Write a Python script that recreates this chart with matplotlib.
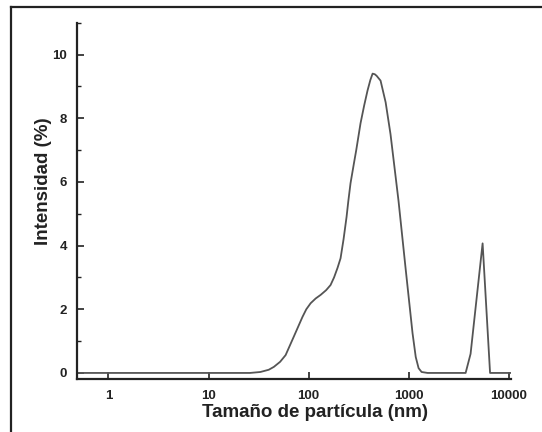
import matplotlib
matplotlib.use("Agg")
import matplotlib.pyplot as plt
from matplotlib.lines import Line2D
from matplotlib.ticker import MultipleLocator, FixedLocator, NullLocator

plt.rcParams['font.family'] = ['Liberation Sans', 'DejaVu Sans']
plt.rcParams['font.weight'] = 'bold'

# tamaño de partícula (nm) e intensidad (%)
size_nm = [0.48, 26, 33, 40, 45, 52, 59, 71, 87, 95, 105, 118, 132, 150, 166, 180, 195, 209,
           224, 240, 250, 263, 285, 300, 331, 360, 389, 415, 437, 460, 480, 525, 590, 660,
           794, 933, 1096, 1180, 1260, 1350, 1550,
           3720, 4170, 5500, 6530, 10500]
intensity = [0, 0, 0.03, 0.1, 0.19, 0.35, 0.56, 1.13, 1.76, 2.0, 2.19, 2.34, 2.45, 2.6, 2.76,
             3.0, 3.3, 3.6, 4.2, 4.9, 5.4, 5.96, 6.6, 7.0, 7.84, 8.4, 8.87, 9.2, 9.4, 9.38,
             9.33, 9.18, 8.5, 7.5, 5.4, 3.3, 1.25, 0.5, 0.15, 0.03, 0,
             0, 0.6, 4.07, 0, 0]

x_ticks = [1, 10, 100, 1000, 10000]
x_ticklabels = ['1', '10', '100', '1000', '10000']

fig = plt.figure(figsize=(5.42, 4.32), dpi=100)
ax = fig.add_axes([0.142, 0.1227, 0.801, 0.8248])

ax.plot(size_nm, intensity, color='#555555', lw=1.3)

ax.set_xscale('log')
ax.set_xlim(0.484, 10600)
ax.set_ylim(-0.19, 11)

ax.xaxis.set_major_locator(FixedLocator(x_ticks))
ax.set_xticklabels(x_ticklabels)
ax.xaxis.set_minor_locator(NullLocator())
ax.yaxis.set_major_locator(MultipleLocator(2))
ax.yaxis.set_minor_locator(MultipleLocator(1))
ax.set_yticks(range(0, 11, 2))

for s in ['top', 'right']:
    ax.spines[s].set_visible(False)
for s in ['left', 'bottom']:
    ax.spines[s].set_linewidth(1.6)
    ax.spines[s].set_color('#222222')

ax.tick_params(axis='both', which='major', direction='in', length=5, width=1.2,
               labelsize=9.5, colors='#222222')
ax.tick_params(axis='y', which='minor', direction='in', length=3, width=1.0, colors='#222222')
ax.tick_params(axis='y', which='major', pad=7)
ax.tick_params(axis='x', which='major', pad=8)

ax.set_xlabel('Tamaño de partícula (nm)', fontsize=13.5, fontweight='bold', color='#222222')
ax.set_ylabel('Intensidad (%)', fontsize=13.5, fontweight='bold', color='#222222')
ax.xaxis.set_label_coords(0.548, -0.095)
ax.xaxis.label.set_va('center')
ax.yaxis.set_label_coords(-0.078, 0.554)
ax.yaxis.label.set_va('center')

# marco escaneado
fig.add_artist(Line2D([0.02, 1.0], [0.984, 0.984], transform=fig.transFigure,
                      color='#222222', lw=1.6))
fig.add_artist(Line2D([0.02, 0.02], [0.0, 0.984], transform=fig.transFigure,
                      color='#222222', lw=1.6))

fig.savefig('out.png', dpi=100)
